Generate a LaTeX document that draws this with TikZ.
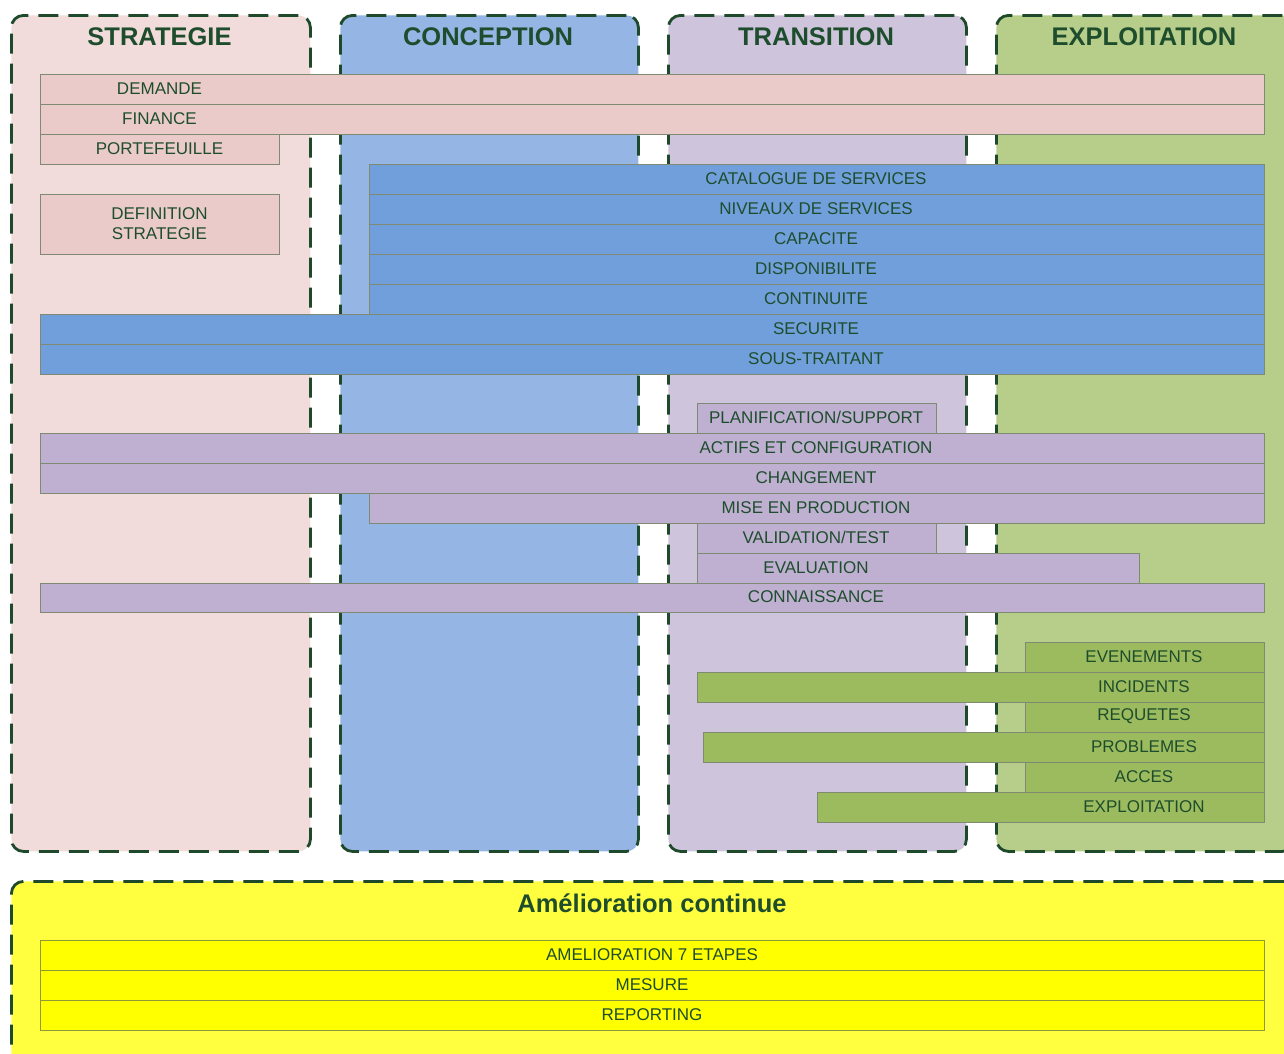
\documentclass[tikz,border=0pt]{standalone}
\usepackage{fontspec}
\setmainfont{Liberation Sans}
\definecolor{frame}{HTML}{1E4A2B}
\definecolor{txt}{HTML}{1E4D2D}
\definecolor{barline}{HTML}{7F8A72}
\definecolor{amelline}{HTML}{8E9A3A}
\definecolor{stratcol}{HTML}{F2DCDB}
\definecolor{stratbar}{HTML}{EBCBC9}
\definecolor{conccol}{HTML}{95B6E4}
\definecolor{concbar}{HTML}{709FDB}
\definecolor{transcol}{HTML}{CEC4DC}
\definecolor{transbar}{HTML}{BFB0D1}
\definecolor{explcol}{HTML}{B7CE8B}
\definecolor{explbar}{HTML}{9CBB5E}
\definecolor{amelcol}{HTML}{FFFF40}
\definecolor{amelbar}{HTML}{FFFF00}
\tikzset{
  colbox/.style={draw=frame, line width=2.8pt, dash pattern=on 20pt off 10pt,
    rounded corners=12pt, anchor=north west, inner sep=0pt},
  head/.style={text=txt, font=\fontsize{25.5}{29}\selectfont\bfseries, inner sep=0pt},
  barbox/.style={draw=barline, line width=0.8pt, anchor=north west, inner sep=0pt},
  barlabel/.style={text=txt, font=\fontsize{17}{20}\selectfont, inner sep=0pt, align=center},
}
% name, x1, x2, y1, height, label x, text, fill
\newcommand\stripe[8]{%
  \node[barbox, fill=#8, minimum width={#3-#2}, minimum height={#5}] (#1) at (#2,#4) {};
  \node[barlabel] (#1-t) at (#6,{#4+#5/2-0.5}) {#7};}
\begin{document}
\begin{tikzpicture}[x=1pt,y=-1pt]
\useasboundingbox (0,0) rectangle (1284,1053);
\clip (0,0) rectangle (1284,1053);
% columns
\node[colbox, fill=stratcol, minimum width=299pt, minimum height=836pt] (strat) at (10,14) {};
\node[colbox, fill=conccol, minimum width=298pt, minimum height=836pt] (conc) at (339,14) {};
\node[colbox, fill=transcol, minimum width=298pt, minimum height=836pt] (trans) at (667,14) {};
\node[colbox, fill=explcol, minimum width=298pt, minimum height=836pt] (expl) at (995,14) {};
\node[colbox, fill=amelcol, minimum width=1284pt, minimum height=200pt] (amel) at (10,880) {};
\node[head] (strat-h) at (159.5,37) {STRATEGIE};
\node[head] (conc-h) at (488,37) {CONCEPTION};
\node[head] (trans-h) at (816,37) {TRANSITION};
\node[head] (expl-h) at (1144,37) {EXPLOITATION};
\node[head] (amel-h) at (652,903) {Amélioration continue};
% strategie
\stripe{demande}{40}{1264}{74}{30}{159.5}{DEMANDE}{stratbar}
\stripe{finance}{40}{1264}{104}{30}{159.5}{FINANCE}{stratbar}
\stripe{portef}{40}{279}{134}{30}{159.5}{PORTEFEUILLE}{stratbar}
\stripe{defstrat}{40}{279}{194}{60}{159.5}{DEFINITION\\STRATEGIE}{stratbar}
% conception
\stripe{catal}{369}{1264}{164}{30}{816}{CATALOGUE DE SERVICES}{concbar}
\stripe{niveaux}{369}{1264}{194}{30}{816}{NIVEAUX DE SERVICES}{concbar}
\stripe{capa}{369}{1264}{224}{30}{816}{CAPACITE}{concbar}
\stripe{dispo}{369}{1264}{254}{30}{816}{DISPONIBILITE}{concbar}
\stripe{conti}{369}{1264}{284}{30}{816}{CONTINUITE}{concbar}
\stripe{secu}{40}{1264}{314}{30}{816}{SECURITE}{concbar}
\stripe{sous}{40}{1264}{344}{30}{816}{SOUS-TRAITANT}{concbar}
% transition
\stripe{planif}{697}{936}{403}{30}{816}{PLANIFICATION/SUPPORT}{transbar}
\stripe{actifs}{40}{1264}{433}{30}{816}{ACTIFS ET CONFIGURATION}{transbar}
\stripe{chang}{40}{1264}{463}{30}{816}{CHANGEMENT}{transbar}
\stripe{mise}{369}{1264}{493}{30}{816}{MISE EN PRODUCTION}{transbar}
\stripe{valid}{697}{936}{523}{30}{816}{VALIDATION/TEST}{transbar}
\stripe{evalu}{697}{1139}{553}{30}{816}{EVALUATION}{transbar}
\stripe{conna}{40}{1264}{583}{29}{816}{CONNAISSANCE}{transbar}
% exploitation
\stripe{even}{1025}{1264}{642}{30}{1144}{EVENEMENTS}{explbar}
\stripe{incid}{697}{1264}{672}{30}{1144}{INCIDENTS}{explbar}
\stripe{requ}{1025}{1264}{702}{30}{1144}{REQUETES}{explbar}
\stripe{probl}{703}{1264}{732}{30}{1144}{PROBLEMES}{explbar}
\stripe{acces}{1025}{1264}{762}{30}{1144}{ACCES}{explbar}
\stripe{exploi}{817}{1264}{792}{30}{1144}{EXPLOITATION}{explbar}
% amelioration
\begin{scope}[barbox/.append style={draw=amelline}]
\stripe{amel7}{40}{1264}{940}{30}{652}{AMELIORATION 7 ETAPES}{amelbar}
\stripe{mesure}{40}{1264}{970}{30}{652}{MESURE}{amelbar}
\stripe{report}{40}{1264}{1000}{30}{652}{REPORTING}{amelbar}
\end{scope}
\end{tikzpicture}
\end{document}
